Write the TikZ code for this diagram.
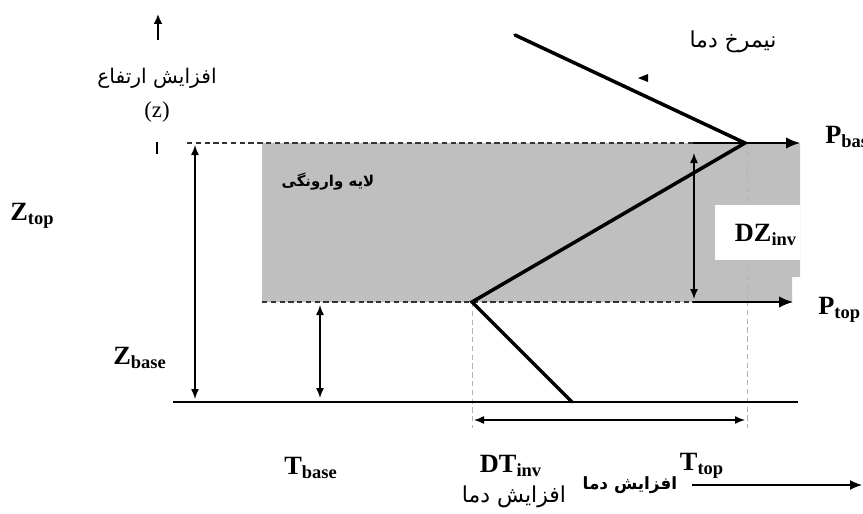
\documentclass[tikz,border=0pt]{standalone}
\usepackage{fontspec}
\setmainfont{Liberation Serif}
\newfontfamily\farsi[Script=Arabic]{DejaVu Sans}
\TeXXeTstate=1
\usetikzlibrary{arrows.meta}
\newcommand{\fa}[1]{{\farsi\beginR #1\endR}}

\begin{document}
\begin{tikzpicture}[x=0.02cm,y=-0.02cm,>=Latex,
  prof/.style={line width=2pt,line cap=round},
  dimarr/.style={<->,line width=0.8pt,>={Latex[length=2mm,width=1.6mm]}},
  parr/.style={->,line width=0.9pt,>={Latex[length=2.8mm,width=2.3mm]}},
  lvl/.style={dash pattern=on 3pt off 2pt,gray!40!black,line width=0.6pt},
  guide/.style={dash pattern=on 3pt off 2pt,gray!60,line width=0.5pt},
  var/.style={font=\fontsize{15}{17}\selectfont\bfseries,inner sep=0pt},
  fatxt/.style={font=\fontsize{11.5}{13}\selectfont,inner sep=0pt}]
\useasboundingbox (0,0) rectangle (863,514);
% points
\coordinate (up0) at (158,40);\coordinate (up1) at (158,14);\coordinate (tk0) at (157,142);\coordinate (tk1) at (157,154);
\coordinate (lt0) at (187,143);\coordinate (lt1) at (797,143);\coordinate (lb0) at (262,302);\coordinate (lb1) at (790,302);
\coordinate (gv0) at (472,302);\coordinate (gv0b) at (472,428);\coordinate (gv1) at (747,143);\coordinate (gv1b) at (747,428);
\coordinate (p0) at (515,35);\coordinate (p1) at (745,143);\coordinate (p2) at (472,302);\coordinate (p3) at (572,402);
\coordinate (g0) at (173,402);\coordinate (g1) at (798,402);
\coordinate (za) at (195,145);\coordinate (zb) at (195,399);\coordinate (zc) at (320,305);\coordinate (zd) at (320,398);
\coordinate (dza) at (694,153);\coordinate (dzb) at (694,299);
\coordinate (pb0) at (693,143);\coordinate (pb1) at (800,143);\coordinate (pt0) at (693,302);\coordinate (pt1) at (793,302);
\coordinate (dta) at (474,420);\coordinate (dtb) at (745,420);\coordinate (ta0) at (692,485);\coordinate (ta1) at (862,485);
% inversion layer
\fill[black!25] (262,143) -- (800,143) -- (800,277) -- (792,277) -- (792,302) -- (262,302) -- cycle;
\draw[lvl] (lt0)--(lt1);\draw[lvl] (lb0)--(lb1);
\draw[guide] (gv0)--(gv0b);\draw[guide] (gv1)--(gv1b);
\fill[white] (715,205) rectangle (800,260);
% axes and profile
\draw[->,line width=1pt,>={Latex[length=2mm,width=1.8mm]}] (up0)--(up1);\draw[line width=0.6pt] (tk0)--(tk1);
\draw[line width=1.6pt] (g0)--(g1);
\draw[prof] (p0)--(p1)--(p2)--(p3);
\fill (638,78) -- (648,74) -- (648,82) -- cycle;
\draw[dimarr] (za)--(zb);\draw[dimarr] (zc)--(zd);\draw[dimarr] (dza)--(dzb);\draw[dimarr] (dta)--(dtb);
\draw[parr] (pb0)--(pb1);\draw[parr] (pt0)--(pt1);
\draw[->,line width=0.8pt,>={Latex[length=2.4mm,width=2mm]}] (ta0)--(ta1);
% labels
\node[fatxt] (height) at (157,78) {\fa{افزایش ارتفاع}};
\node[font=\fontsize{13}{15}\selectfont,inner sep=0pt] (zsym) at (157,112) {(z)};
\node[fatxt,font=\fontsize{12.5}{14}\selectfont] (profile) at (733,42) {\fa{نیمرخ دما}};
\node[fatxt,font=\fontsize{8.5}{10}\selectfont\bfseries] (layer) at (328,182) {\fa{لایه وارونگی}};
\node[fatxt,font=\fontsize{12.5}{14}\selectfont] (warm) at (514,497) {\fa{افزایش دما}};
\node[fatxt,font=\fontsize{9.6}{11}\selectfont\bfseries] (warm2) at (630,485) {\fa{افزایش دما}};
\node[var,anchor=west] (Ztop) at (10,216) {Z\textsubscript{top}};
\node[var,anchor=west] (Zbase) at (113,358) {Z\textsubscript{base}};
\node[var] (DZinv) at (766,235) {DZ\textsubscript{inv}};
\node[var,anchor=west] (Pbase) at (825,137) {P\textsubscript{base}};
\node[var,anchor=west] (Ptop) at (818,310) {P\textsubscript{top}};
\node[var] (Tbase) at (311,468) {T\textsubscript{base}};
\node[var] (DTinv) at (511,466) {DT\textsubscript{inv}};
\node[var] (Ttop) at (702,466) {T\textsubscript{top}};
\end{tikzpicture}
\end{document}
